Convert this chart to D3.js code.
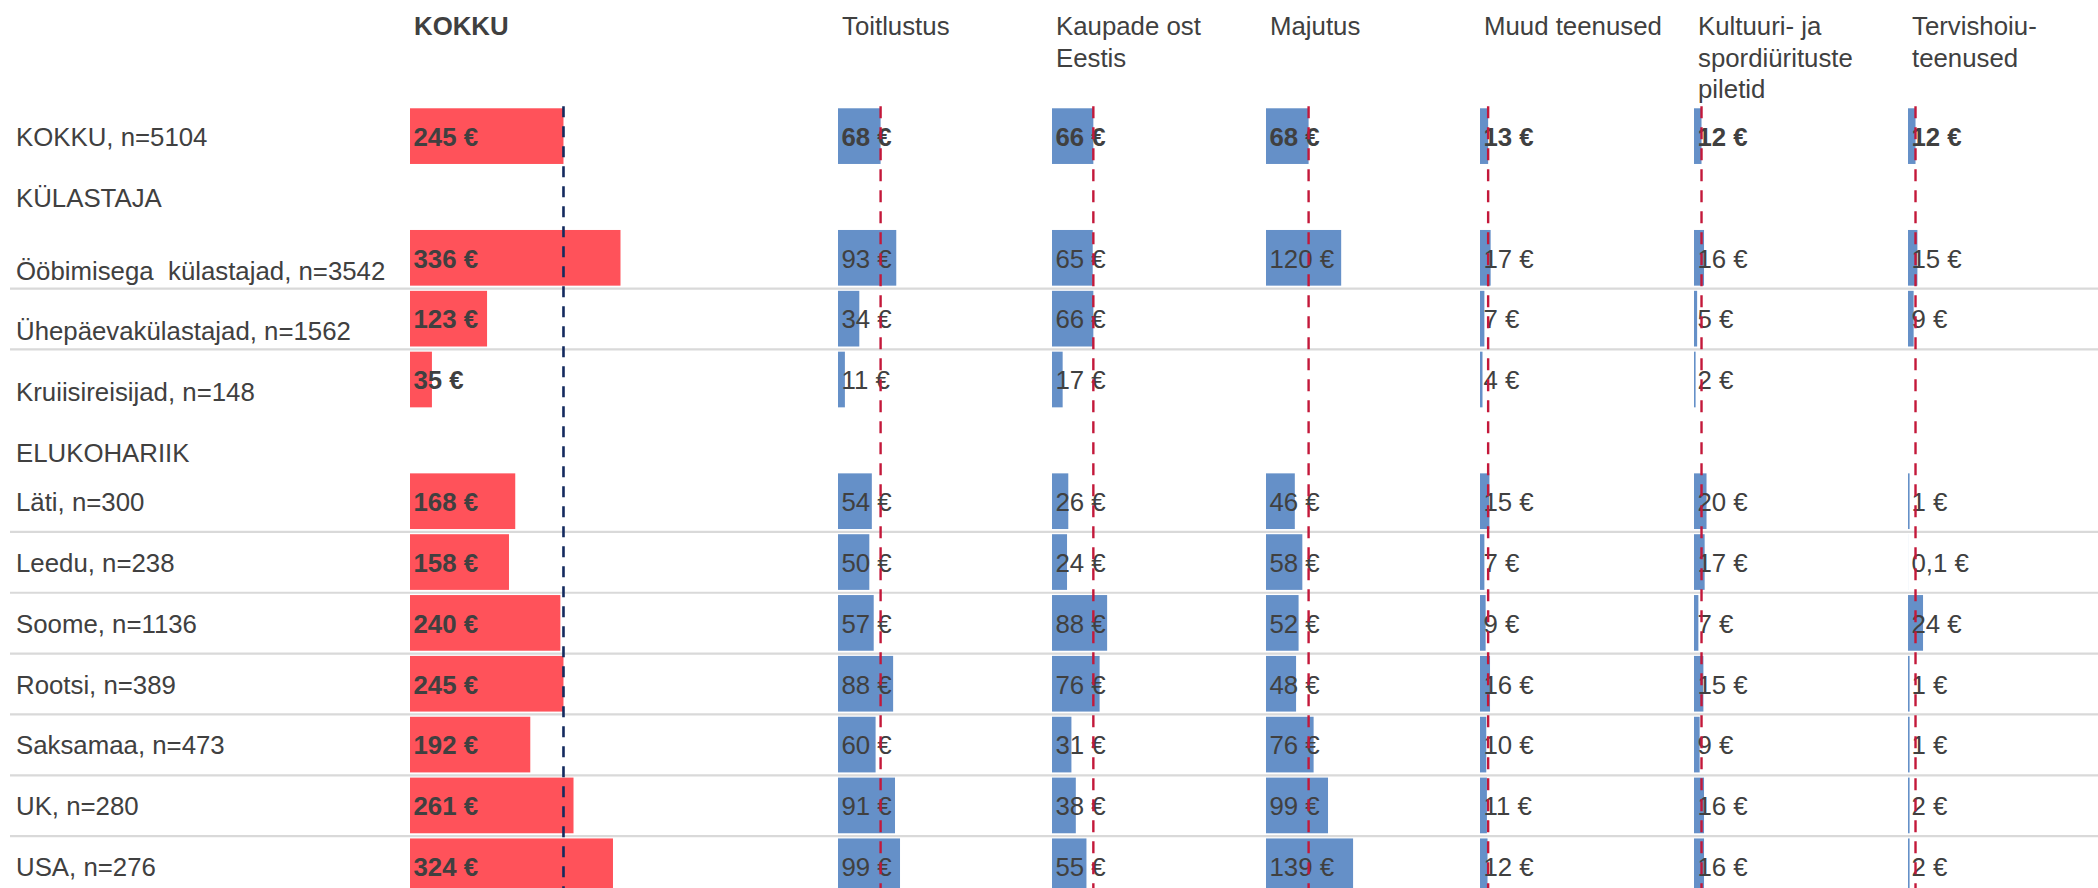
<!DOCTYPE html>
<html>
<head>
<meta charset="utf-8">
<script src="https://cdn.jsdelivr.net/npm/d3@7"></script>
<style>
  body { margin: 0; background: #fff; }
  text { font-family: "Liberation Sans", Arial, sans-serif; fill: #404040; white-space: pre; }
</style>
</head>
<body>
<svg id="chart" width="2098" height="888"></svg>
<script>
// rows of the table (group headings have no values)
var rowLabels = ["KOKKU, n=5104", "KÜLASTAJA", "Ööbimisega  külastajad, n=3542", "Ühepäevakülastajad, n=1562",
  "Kruiisireisijad, n=148", "ELUKOHARIIK", "Läti, n=300", "Leedu, n=238", "Soome, n=1136", "Rootsi, n=389",
  "Saksamaa, n=473", "UK, n=280", "USA, n=276"];

var columnHeads = [["KOKKU"], ["Toitlustus"], ["Kaupade ost", "Eestis"], ["Majutus"], ["Muud teenused"],
  ["Kultuuri- ja", "spordiürituste", "piletid"], ["Tervishoiu-", "teenused"]];

// euro per visitor, one value per row (null = no bar)
var kokku      = [245, null, 336, 123, 35, null, 168, 158, 240, 245, 192, 261, 324];
var toitlustus = [68, null, 93, 34, 11, null, 54, 50, 57, 88, 60, 91, 99];
var kaubad     = [66, null, 65, 66, 17, null, 26, 24, 88, 76, 31, 38, 55];
var majutus    = [68, null, 120, null, null, null, 46, 58, 52, 48, 76, 99, 139];
var muud       = [13, null, 17, 7, 4, null, 15, 7, 9, 16, 10, 11, 12];
var kultuur    = [12, null, 16, 5, 2, null, 20, 17, 7, 15, 9, 16, 16];
var tervis     = [12, null, 15, 9, null, null, 1, 0.1, 24, 1, 1, 2, 2];

var series = [kokku, toitlustus, kaubad, majutus, muud, kultuur, tervis];

var svg = d3.select("#chart");
var fs = 25.8;

// column slots, second slot left empty next to the KOKKU column
var slots = ["KOKKU", "gap", "c1", "c2", "c3", "c4", "c5", "c6"];
var colSlot = ["KOKKU", "c1", "c2", "c3", "c4", "c5", "c6"];
var col = d3.scaleBand().domain(slots).range([410, 2122]);

var y = d3.scaleBand()
  .domain(rowLabels)
  .range([105.7, 896.7])
  .paddingInner(0.085)
  .paddingOuter(0.0425);

var x = d3.scaleLinear().domain([0, 340]).range([0, 213]);

// labels of these rows sit a bit lower in the original
var dropped = [rowLabels[2], rowLabels[3], rowLabels[4], rowLabels[5]];

// separator lines
var sepRows = [2, 3, 6, 7, 8, 9, 10, 11];
svg.selectAll("line.sep")
  .data(sepRows)
  .enter().append("line")
  .attr("class", "sep")
  .attr("x1", 10).attr("x2", 2098)
  .attr("y1", function(i) { return y(rowLabels[i]) + y.bandwidth() + y.step() * 0.0425 + 0.3; })
  .attr("y2", function(i) { return y(rowLabels[i]) + y.bandwidth() + y.step() * 0.0425 + 0.3; })
  .attr("stroke", "#d9d9d9")
  .attr("stroke-width", 2.2);

// row labels
svg.selectAll("text.row")
  .data(rowLabels)
  .enter().append("text")
  .attr("class", "row")
  .attr("x", 16)
  .attr("y", function(d) { return y(d) + y.bandwidth() / 2 + fs * 0.38 + (dropped.indexOf(d) >= 0 ? 12 : 0); })
  .style("font-size", fs + "px")
  .text(function(d) { return d; });

// column headings
columnHeads.forEach(function(lines, c) {
  var t = svg.append("text")
    .attr("x", col(colSlot[c]) + 4)
    .attr("y", 35)
    .style("font-size", fs + "px")
    .style("font-weight", c == 0 ? "bold" : "normal");
  lines.forEach(function(l, k) {
    t.append("tspan").attr("x", col(colSlot[c]) + 4).attr("dy", k == 0 ? 0 : 31.7).text(l);
  });
});

function fmt(v) { return String(v).replace(".", ",") + " €"; }

series.forEach(function(vals, c) {
  var x0 = col(colSlot[c]);
  var data = vals.map(function(v, i) { return {row: rowLabels[i], v: v, i: i}; })
    .filter(function(d) { return d.v != null; });
  var g = svg.append("g");

  g.selectAll("rect")
    .data(data)
    .enter().append("rect")
    .attr("x", x0)
    .attr("y", function(d) { return y(d.row); })
    .attr("width", function(d) { return Math.max(x(d.v), d.v >= 1 ? 1.6 : 0); })
    .attr("height", y.bandwidth())
    .attr("fill", c == 0 ? "#ff525a" : "#6590c8");

  g.selectAll("text")
    .data(data)
    .enter().append("text")
    .attr("x", x0 + 3.5)
    .attr("y", function(d) { return y(d.row) + y.bandwidth() / 2 + fs * 0.38; })
    .style("font-size", fs + "px")
    .style("font-weight", function(d) { return (c == 0 || d.i == 0) ? "bold" : "normal"; })
    .text(function(d) { return fmt(d.v); });

  // average line at the KOKKU value
  svg.append("line")
    .attr("x1", x0 + x(vals[0])).attr("x2", x0 + x(vals[0]))
    .attr("y1", y(rowLabels[0]) - 2).attr("y2", 888)
    .attr("stroke", c == 0 ? "#13295e" : "#c3183a")
    .attr("stroke-width", c == 0 ? 2.6 : 2.4)
    .attr("stroke-dasharray", c == 0 ? "11,9" : "12,9");
});
</script>
</body>
</html>
